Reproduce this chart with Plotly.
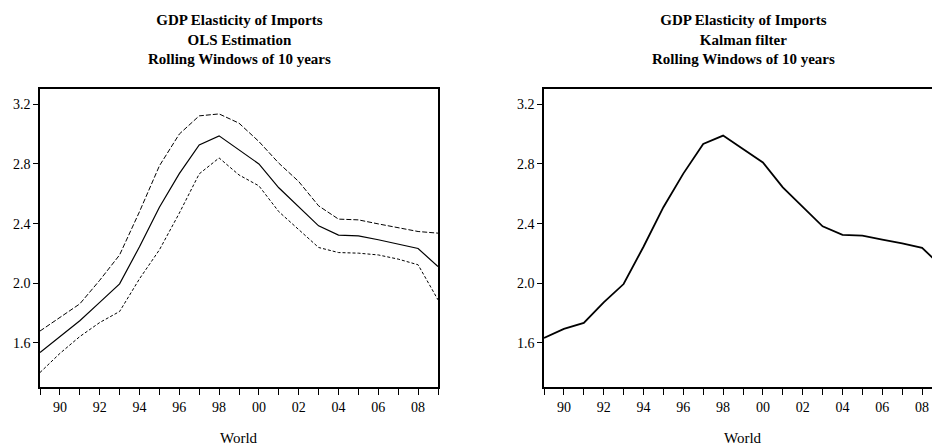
import plotly.graph_objects as go

# Rolling 10-year windows, end years
years = list(range(1989, 2010))

# OLS estimation: point estimate and upper/lower bands
ols_mid = [1.536, 1.645, 1.749, 1.872, 1.996, 2.245, 2.510, 2.735, 2.927, 2.988,
           2.895, 2.800, 2.640, 2.514, 2.385, 2.323, 2.318, 2.292, 2.264, 2.233, 2.112]
ols_upper = [1.680, 1.770, 1.862, 2.020, 2.190, 2.480, 2.787, 3.000, 3.122, 3.135,
             3.073, 2.950, 2.805, 2.682, 2.519, 2.430, 2.425, 2.398, 2.372, 2.347, 2.336]
ols_lower = [1.402, 1.530, 1.643, 1.737, 1.811, 2.030, 2.224, 2.470, 2.733, 2.840,
             2.726, 2.653, 2.480, 2.358, 2.240, 2.206, 2.202, 2.190, 2.162, 2.124, 1.889]

# Kalman filter estimate
kalman = [1.633, 1.694, 1.734, 1.872, 1.995, 2.245, 2.510, 2.735, 2.934, 2.990,
          2.900, 2.810, 2.643, 2.510, 2.382, 2.324, 2.319, 2.293, 2.268, 2.237, 2.112]

x_tickvals = list(range(1990, 2010, 2))
x_ticktext = ["90", "92", "94", "96", "98", "00", "02", "04", "06", "08"]
y_tickvals = [1.6, 2.0, 2.4, 2.8, 3.2]
y_ticktext = ["1.6", "2.0", "2.4", "2.8", "3.2"]

W, H = 932, 445
FONT = "Liberation Serif, Times New Roman, serif"

fig = go.Figure()

fig.add_trace(go.Scatter(x=years, y=ols_upper, mode="lines",
                         line=dict(color="black", width=1, dash="5px,2px"),
                         xaxis="x", yaxis="y"))
fig.add_trace(go.Scatter(x=years, y=ols_mid, mode="lines",
                         line=dict(color="black", width=1.2),
                         xaxis="x", yaxis="y"))
fig.add_trace(go.Scatter(x=years, y=ols_lower, mode="lines",
                         line=dict(color="black", width=1, dash="3px,2px"),
                         xaxis="x", yaxis="y"))
fig.add_trace(go.Scatter(x=years, y=kalman, mode="lines",
                         line=dict(color="black", width=1.8),
                         xaxis="x2", yaxis="y2"))

ydom = [(H - 387) / H, (H - 89) / H]
left_dom = [40 / W, 438 / W]
right_dom = [544 / W, 1.0]
yrange = [1.305, 3.302]

common_x = dict(
    tickvals=x_tickvals, ticktext=x_ticktext, ticks="outside", ticklen=6,
    tickcolor="black", tickwidth=1, showline=True, linecolor="black", linewidth=1.5,
    showgrid=False, zeroline=False, tickfont=dict(family=FONT, size=14, color="black"),
    minor=dict(dtick=1, tick0=1989, ticks="outside", ticklen=6, tickcolor="black",
               tickwidth=1, showgrid=False),
)
common_y = dict(
    range=yrange, tickvals=y_tickvals, ticktext=y_ticktext, ticks="outside", ticklen=5,
    tickcolor="black", tickwidth=1, showline=True, linecolor="black", linewidth=1.5,
    showgrid=False, zeroline=False, tickfont=dict(family=FONT, size=14, color="black"),
)

fig.update_layout(
    width=W, height=H,
    margin=dict(l=0, r=0, t=0, b=0),
    paper_bgcolor="white", plot_bgcolor="white",
    showlegend=False,
    xaxis=dict(domain=left_dom, range=[1989, 2009], anchor="y", mirror=True, **common_x),
    yaxis=dict(domain=ydom, anchor="x", mirror=True, **common_y),
    xaxis2=dict(domain=right_dom, range=[1989, 1989 + (W - 544) / 19.9], anchor="y2",
                mirror=True, **common_x),
    yaxis2=dict(domain=ydom, anchor="x2", mirror=False, **common_y),
)

titles = [
    ("<b>GDP Elasticity of Imports</b><br><b>OLS Estimation</b><br><b>Rolling Windows of 10 years</b>", 239),
    ("<b>GDP Elasticity of Imports</b><br><b>Kalman filter</b><br><b>Rolling Windows of 10 years</b>", 743),
]
for text, cx in titles:
    fig.add_annotation(text=text, x=cx / W, y=(H - 39) / H, xref="paper", yref="paper",
                       xanchor="center", yanchor="middle", showarrow=False,
                       font=dict(family=FONT, size=15, color="black"))
    fig.add_annotation(text="World", x=cx / W, y=(H - 438) / H, xref="paper", yref="paper",
                       xanchor="center", yanchor="middle", showarrow=False,
                       font=dict(family=FONT, size=15, color="black"))

fig.write_html("out.html")
